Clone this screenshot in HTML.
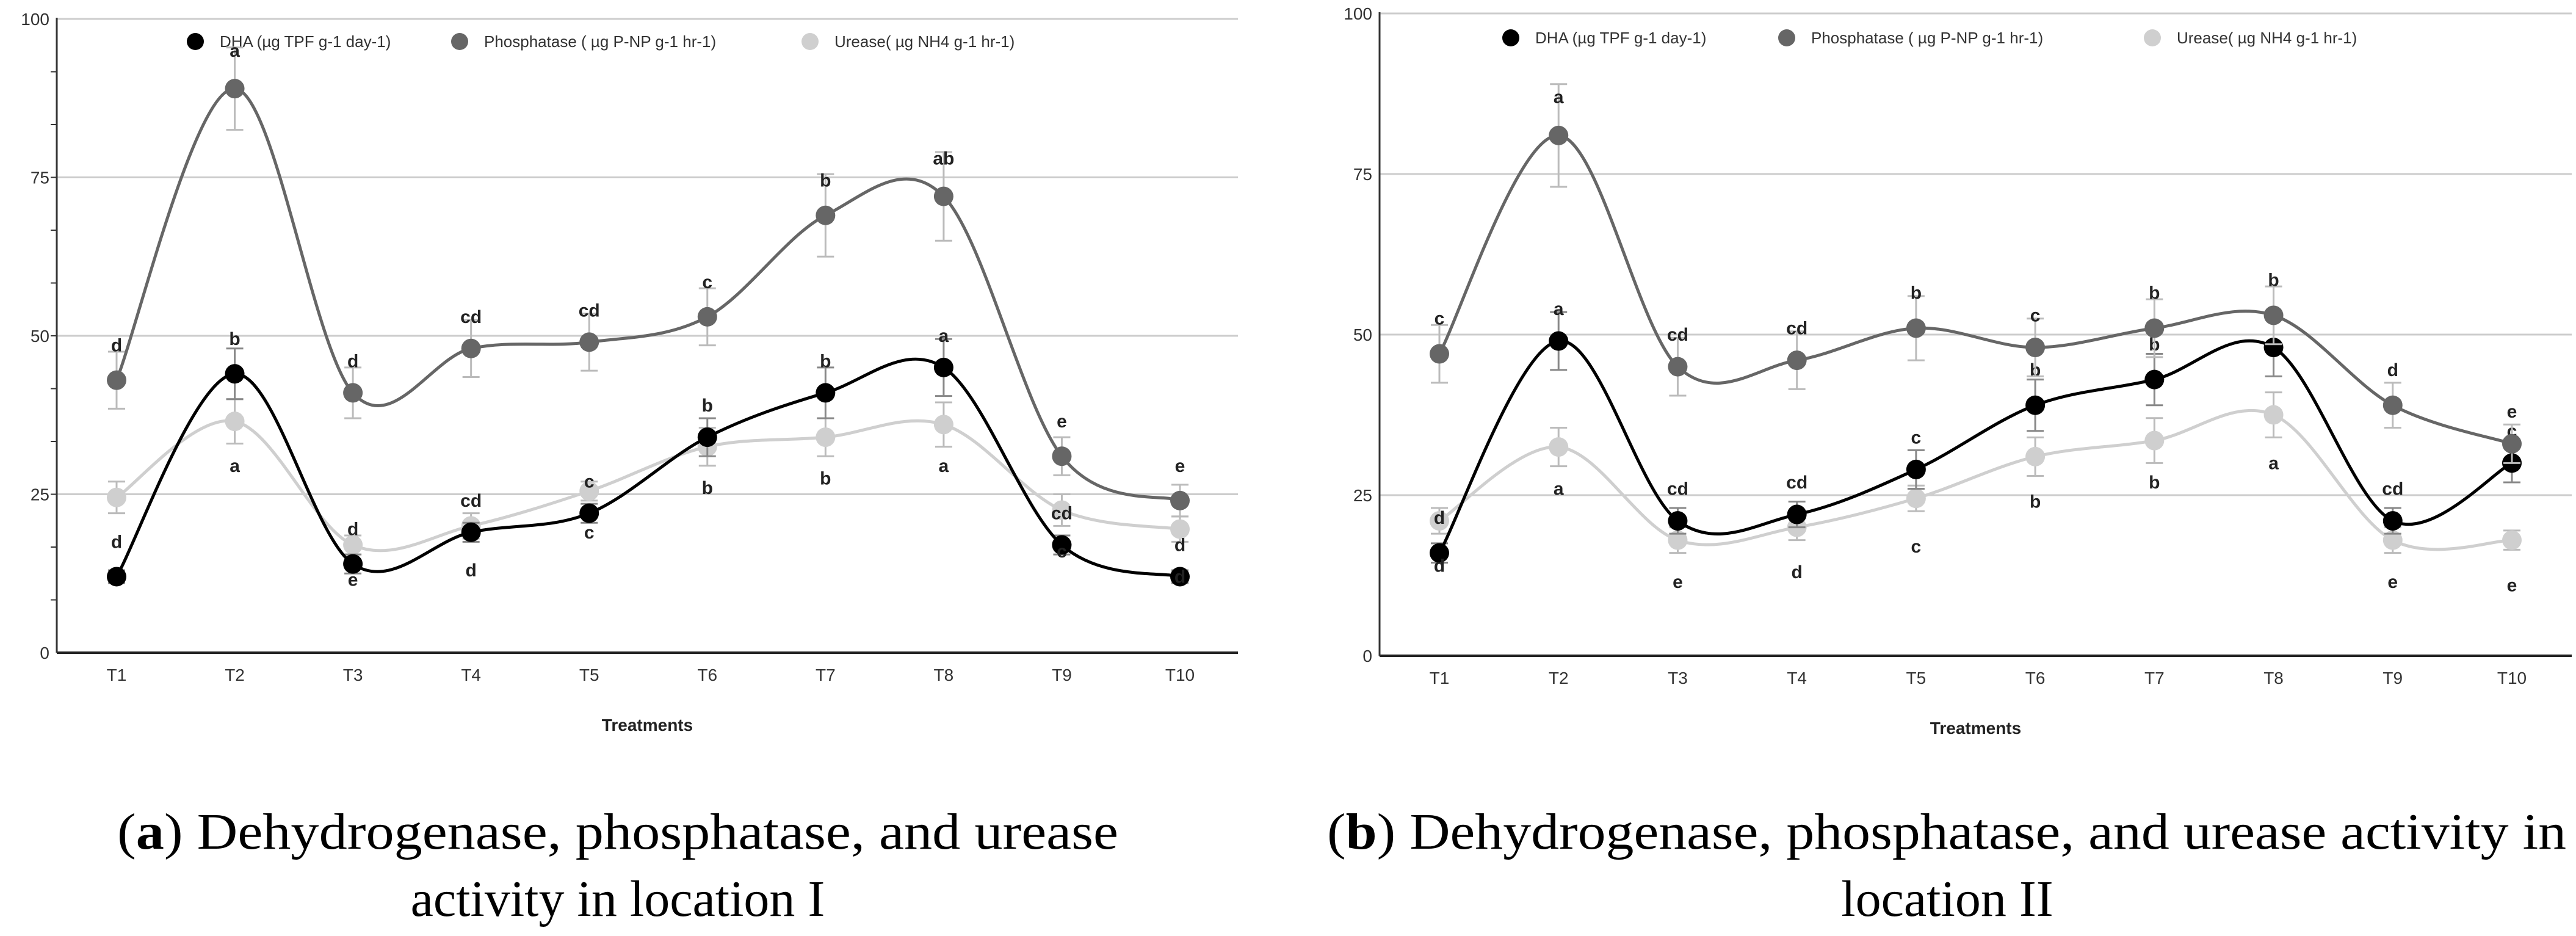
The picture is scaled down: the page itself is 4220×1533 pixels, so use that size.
<!DOCTYPE html>
<html><head><meta charset="utf-8"><style>
html,body{margin:0;padding:0;background:#fff;}
svg{display:block;font-family:"Liberation Sans",sans-serif;}
</style></head><body>
<svg id="root" width="4220" height="1533" viewBox="0 0 4220 1533" xmlns="http://www.w3.org/2000/svg">
<rect width="4220" height="1533" fill="#fff"/>
<g id="chartA"></g>
<g id="chartB"></g>
<g font-family="Liberation Serif, serif" font-size="84" text-anchor="middle" fill="#000">
<text x="1012" y="1390" textLength="1640" lengthAdjust="spacingAndGlyphs">(<tspan font-weight="bold">a</tspan>) Dehydrogenase, phosphatase, and urease</text>
<text x="1012" y="1500">activity in location I</text>
</g>
<g font-family="Liberation Serif, serif" font-size="84" text-anchor="middle" fill="#000">
<text x="3189" y="1390" textLength="2030" lengthAdjust="spacingAndGlyphs">(<tspan font-weight="bold">b</tspan>) Dehydrogenase, phosphatase, and urease activity in</text>
<text x="3190" y="1500">location II</text>
</g>
</svg>
<script>
const categories = ["T1","T2","T3","T4","T5","T6","T7","T8","T9","T10"];
const yTicks = [0,25,50,75,100];
const seriesNames = ["DHA (µg TPF g-1 day-1)","Phosphatase ( µg P-NP  g-1 hr-1)","Urease( µg NH4 g-1 hr-1)"];
// Location I
const dhaA = [12,44,14,19,22,34,41,45,17,12];
const phosA = [43,89,41,48,49,53,69,72,31,24];
const ureA = [24.5,36.5,17,20,25.5,32.5,34,36,22.5,19.5];
const dhaErrA = [1,4,1.5,1.5,1.5,3,4,4.5,1.5,1];
const phosErrA = [4.5,6.5,4,4.5,4.5,4.5,6.5,7,3,2.5];
const ureErrA = [2.5,3.5,1.5,2,1.5,3,3,3.5,2.5,2];
const dhaLetA = ["d","b","e","d","c","b","b","a","c","d"];
const dhaLetYA = [17.5,49.5,11.5,13,19,39,46,50,16,12];
const phosLetA = ["d","a","d","cd","cd","c","b","ab","e","e"];
const phosLetYA = [48.5,95,46,53,54,58.5,74.5,78,36.5,29.5];
const ureLetA = ["","a","d","cd","c","b","b","a","cd","d"];
const ureLetYA = [0,29.5,19.5,24,27,26,27.5,29.5,22,17];
// Location II
const dhaB = [16,49,21,22,29,39,43,48,21,30];
const phosB = [47,81,45,46,51,48,51,53,39,33];
const ureB = [21,32.5,18,20,24.5,31,33.5,37.5,18,18];
const dhaErrB = [1.5,4.5,2,2,3,4,4,4.5,2,3];
const phosErrB = [4.5,8,4.5,4.5,5,4.5,4.5,4.5,3.5,3];
const ureErrB = [2,3,2,2,2,3,3.5,3.5,2,1.5];
const dhaLetB = ["d","a","cd","cd","c","b","b","a","cd","c"];
const dhaLetYB = [14,54,26,27,34,44.5,48.5,53,26,35];
const phosLetB = ["c","a","cd","cd","b","c","b","b","d","e"];
const phosLetYB = [52.5,87,50,51,56.5,53,56.5,58.5,44.5,38];
const ureLetB = ["d","a","e","d","c","b","b","a","e","e"];
const ureLetYB = [21.5,26,11.5,13,17,24,27,30,11.5,11];

const COLORS={dha:'#000',phos:'#666',ure:'#cfcfcf'};
const legendKeys=['dha','phos','ure'];

const NS="http://www.w3.org/2000/svg";
function mk(parent,tag,attrs,text){const e=document.createElementNS(NS,tag);for(const k in attrs)e.setAttribute(k,attrs[k]);if(text!==undefined)e.textContent=text;parent.appendChild(e);return e;}

function draw(g,cfg,series){
  const xS=i=>cfg.x0+(cfg.x1-cfg.x0)*i/(categories.length-1);
  const yS=v=>cfg.yb+(cfg.yt-cfg.yb)*v/100;
  yTicks.forEach(t=>{
    const l=mk(g,'line',{x1:cfg.ax,x2:cfg.gr,y1:yS(t),y2:yS(t),stroke:t===0?'#222':'#ccc','stroke-width':t===0?4:3});
    
    
    const tx=mk(g,'text',{x:cfg.ax-12,y:yS(t)+10,'font-size':28,'text-anchor':'end',fill:'#333'},String(t));
    
    
  });
  if(cfg.minor){for(let k=1;k<12;k++){const v=100*k/12;const m=mk(g,'line',{x1:cfg.ax-10,x2:cfg.ax,y1:yS(v),y2:yS(v),stroke:'#333','stroke-width':2});
    
    }}
  const ya=mk(g,'line',{x1:cfg.ax,x2:cfg.ax,y1:yS(100)-2,y2:yS(0),stroke:'#333','stroke-width':3});
  
  
  categories.forEach((c,i)=>{
    const t=mk(g,'text',{x:xS(i),y:cfg.yb+46,'font-size':28,'text-anchor':'middle',fill:'#333'},c);
    
    
  });
  const xt=mk(g,'text',{x:(cfg.ax+cfg.gr)/2,y:cfg.yb+128,'font-size':28,'font-weight':'bold','text-anchor':'middle',fill:'#222'},'Treatments');
  
  
  legendKeys.forEach((key,k)=>{
    const lg=mk(g,'g',{});
    
    
    mk(lg,'circle',{cx:cfg.leg[k],cy:cfg.ly,r:14,fill:COLORS[key]});
    mk(lg,'text',{x:cfg.leg[k]+40,y:cfg.ly+9,'font-size':26,fill:'#333'},seriesNames[k]);
  });
  series.forEach(s=>{
    const sg=mk(g,'g',{});
    
    
    s.vals.forEach((v,i)=>{
      const x=xS(i),e=s.err[i];
      const eb=mk(sg,'path',{d:`M${x},${yS(v+e)}V${yS(v-e)}M${x-14},${yS(v+e)}h28M${x-14},${yS(v-e)}h28`,stroke:s.ebc,'stroke-width':3,fill:'none'});
      
      
    });
    const pts=s.vals.map((v,i)=>[xS(i),yS(v)]);
    let d=`M${pts[0][0]},${pts[0][1]}`;
    for(let i=0;i<pts.length-1;i++){
      const p0=pts[Math.max(0,i-1)],p1=pts[i],p2=pts[i+1],p3=pts[Math.min(pts.length-1,i+2)];
      const c1=[p1[0]+(p2[0]-p0[0])/6,p1[1]+(p2[1]-p0[1])/6];
      const c2=[p2[0]-(p3[0]-p1[0])/6,p2[1]-(p3[1]-p1[1])/6];
      d+=`C${c1[0]},${c1[1]} ${c2[0]},${c2[1]} ${p2[0]},${p2[1]}`;
    }
    const ln=mk(sg,'path',{d:d,stroke:s.color,'stroke-width':5,fill:'none'});
    
    
    pts.forEach(p=>{
      const c=mk(sg,'circle',{cx:p[0],cy:p[1],r:16,fill:s.color});
      
      
    });
    s.lets.forEach((L,i)=>{
      if(!L)return;
      const t=mk(sg,'text',{x:xS(i),y:yS(s.letY[i])+10,'font-size':30,'font-weight':'bold','text-anchor':'middle',fill:'#222'},L);
      
      
    });
  });
}
draw(document.getElementById('chartA'),{ax:93,gr:2028,x0:191,x1:1933,yt:31,yb:1069,minor:true,ly:68,leg:[320,753,1327]},[
  {name:'urease-series',color:COLORS.ure,ebc:'#bbb',vals:ureA,err:ureErrA,lets:ureLetA,letY:ureLetYA},
  {name:'dha-series',color:COLORS.dha,ebc:'#888',vals:dhaA,err:dhaErrA,lets:dhaLetA,letY:dhaLetYA},
  {name:'phosphatase-series',color:COLORS.phos,ebc:'#bbb',vals:phosA,err:phosErrA,lets:phosLetA,letY:phosLetYA}
]);
draw(document.getElementById('chartB'),{ax:2260,gr:4213,x0:2358,x1:4115,yt:22,yb:1074,minor:false,ly:62,leg:[2475,2927,3526]},[
  {name:'urease-series',color:COLORS.ure,ebc:'#bbb',vals:ureB,err:ureErrB,lets:ureLetB,letY:ureLetYB},
  {name:'dha-series',color:COLORS.dha,ebc:'#888',vals:dhaB,err:dhaErrB,lets:dhaLetB,letY:dhaLetYB},
  {name:'phosphatase-series',color:COLORS.phos,ebc:'#bbb',vals:phosB,err:phosErrB,lets:phosLetB,letY:phosLetYB}
]);
</script>
</body></html>
